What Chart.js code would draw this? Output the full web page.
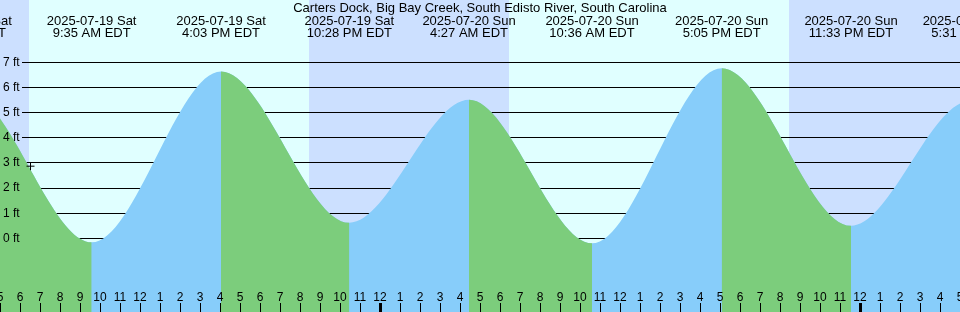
<!DOCTYPE html>
<html>
<head>
<meta charset="utf-8">
<title>Carters Dock tides</title>
<script src="https://cdn.jsdelivr.net/npm/chart.js@4/dist/chart.umd.min.js"></script>
<style>
  html, body { margin: 0; padding: 0; background: #fff; }
  #tideChart { display: block; }
</style>
</head>
<body>
<canvas id="tideChart" width="960" height="312"></canvas>
<script>
// All times are hours counted from 2025-07-19 00:00 EDT
const stationName = "Carters Dock, Big Bay Creek, South Edisto River, South Carolina";

// High / low tide events (the outer ones sit outside the window,
// they only keep the curve flat at the edge extremes)
const tideHours = [-2.85, 3.35, 9.583, 16.05, 22.467, 28.45, 34.6, 41.083, 47.55, 53.517, 59.6];
const tideFeet = [0.65, 5.8, -0.16, 6.64, 0.62, 5.51, -0.2, 6.77, 0.5, 5.47, -0.2];
const eventDates = [
  "2025-07-18 Fri", "2025-07-19 Sat", "2025-07-19 Sat", "2025-07-19 Sat",
  "2025-07-19 Sat", "2025-07-20 Sun", "2025-07-20 Sun", "2025-07-20 Sun",
  "2025-07-20 Sun", "2025-07-21 Mon", "2025-07-21 Mon",
];
const eventClock = [
  "9:09 PM EDT", "3:21 AM EDT", "9:35 AM EDT", "4:03 PM EDT",
  "10:28 PM EDT", "4:27 AM EDT", "10:36 AM EDT", "5:05 PM EDT",
  "11:33 PM EDT", "5:31 AM EDT", "11:36 AM EDT",
];

// Sun: night runs from sunset[i] to sunrise[i]
const sunsetHours = [-3.55, 20.45, 44.45];
const sunriseHours = [6.45, 30.45, 54.45];

// current time marker
const nowHour = [6.525];
const nowFeet = [2.87];

// axis ticks
const footTicks = [0, 1, 2, 3, 4, 5, 6, 7];
const startHour = 5;
const endHour = 53;
const feetMin = -2.93;
const feetMax = 9.48;

const dayColor = "#e0ffff";
const nightColor = "#cce0ff";
const riseColor = "#87cdfa";
const fallColor = "#7ccd7c";
const fontFamily = "'Liberation Sans', Arial, sans-serif";

const hourTicks = [];
for (let h = startHour; h <= endHour; h++) hourTicks.push(h);

const tidePoints = tideHours.map((h, i) => ({ x: h, y: tideFeet[i] }));

/**
 * Axes sit inside the plot: take no room in the layout
 */
function flatten(scale) {
  if (scale.isHorizontal()) scale.height = 0;
  else scale.width = 0;
  scale.paddingLeft = 0;
  scale.paddingRight = 0;
  scale.paddingTop = 0;
  scale.paddingBottom = 0;
}

/**
 * Paint day / night bands behind everything
 */
const skyPlugin = {
  id: "sky",
  beforeDraw(chart) {
    const { ctx, chartArea: a, scales } = chart;
    const x = scales.x;
    ctx.save();
    ctx.fillStyle = dayColor;
    ctx.fillRect(a.left, a.top, a.right - a.left, a.bottom - a.top);
    ctx.fillStyle = nightColor;
    sunsetHours.forEach((s, i) => {
      const x1 = Math.max(a.left, x.getPixelForValue(s));
      const x2 = Math.min(a.right, x.getPixelForValue(sunriseHours[i]));
      if (x2 > x1) ctx.fillRect(x1, a.top, x2 - x1, a.bottom - a.top);
    });
    ctx.restore();
  },
};

Chart.defaults.font.family = fontFamily;
Chart.defaults.color = "#000";

new Chart(document.getElementById("tideChart"), {
  type: "line",
  data: {
    datasets: [
      {
        label: "now",
        type: "scatter",
        data: nowHour.map((h, i) => ({ x: h, y: nowFeet[i] })),
        pointStyle: "cross",
        pointRadius: 4,
        pointBorderColor: "#000",
        pointBorderWidth: 1,
        order: 0,
      },
      {
        // falling tide, painted over the rising fill
        label: "falling",
        data: tidePoints,
        fill: "start",
        borderWidth: 0,
        borderColor: "transparent",
        backgroundColor: "transparent",
        pointRadius: 0,
        cubicInterpolationMode: "monotone",
        segment: {
          backgroundColor: (c) => (c.p1.y > c.p0.y ? fallColor : "transparent"),
        },
        order: 1,
      },
      {
        label: "rising",
        data: tidePoints,
        fill: "start",
        borderWidth: 0,
        borderColor: "transparent",
        backgroundColor: riseColor,
        pointRadius: 0,
        cubicInterpolationMode: "monotone",
        order: 2,
      },
    ],
  },
  options: {
    responsive: false,
    animation: false,
    devicePixelRatio: 1,
    events: [],
    layout: { padding: 0, autoPadding: false },
    plugins: {
      legend: { display: false },
      tooltip: { enabled: false },
    },
    scales: {
      x: {
        type: "linear",
        position: "bottom",
        min: startHour,
        max: endHour,
        afterFit: flatten,
        afterBuildTicks: (s) => { s.ticks = hourTicks.map((v) => ({ value: v })); },
        border: { display: false },
        grid: {
          drawOnChartArea: false,
          drawTicks: true,
          tickLength: -9,
          tickColor: "#000",
          tickWidth: (c) => (c.tick && c.tick.value % 24 === 0 ? 3 : 1),
          z: 1,
        },
        ticks: {
          mirror: true,
          padding: 7,
          autoSkip: false,
          maxRotation: 0,
          minRotation: 0,
          color: "#000",
          font: { size: 12 },
          z: 1,
          callback: (v) => (v % 12) || 12,
        },
      },
      xTop: {
        type: "linear",
        position: "top",
        min: startHour,
        max: endHour,
        afterFit: flatten,
        afterBuildTicks: (s) => { s.ticks = tideHours.map((v) => ({ value: v })); },
        border: { display: false },
        grid: { display: false, z: 1 },
        title: {
          display: true,
          text: stationName,
          color: "#000",
          font: { size: 13, lineHeight: "12px" },
          padding: { top: 2.5, bottom: 0 },
        },
        ticks: {
          mirror: true,
          padding: 3,
          autoSkip: false,
          maxRotation: 0,
          minRotation: 0,
          color: "#000",
          font: { size: 13, lineHeight: "12px" },
          z: 1,
          callback: (v, i) => [eventDates[i], eventClock[i]],
        },
      },
      y: {
        type: "linear",
        position: "left",
        min: feetMin,
        max: feetMax,
        afterFit: flatten,
        afterBuildTicks: (s) => { s.ticks = footTicks.map((v) => ({ value: v })); },
        border: { display: false, dash: [0, 22, 4000, 0] },
        grid: { color: "#000", lineWidth: 1, drawTicks: false },
        ticks: {
          mirror: true,
          padding: 3,
          color: "#000",
          font: { size: 12 },
          z: 1,
          callback: (v) => v + " ft",
        },
      },
    },
  },
  plugins: [skyPlugin],
});
</script>
</body>
</html>
